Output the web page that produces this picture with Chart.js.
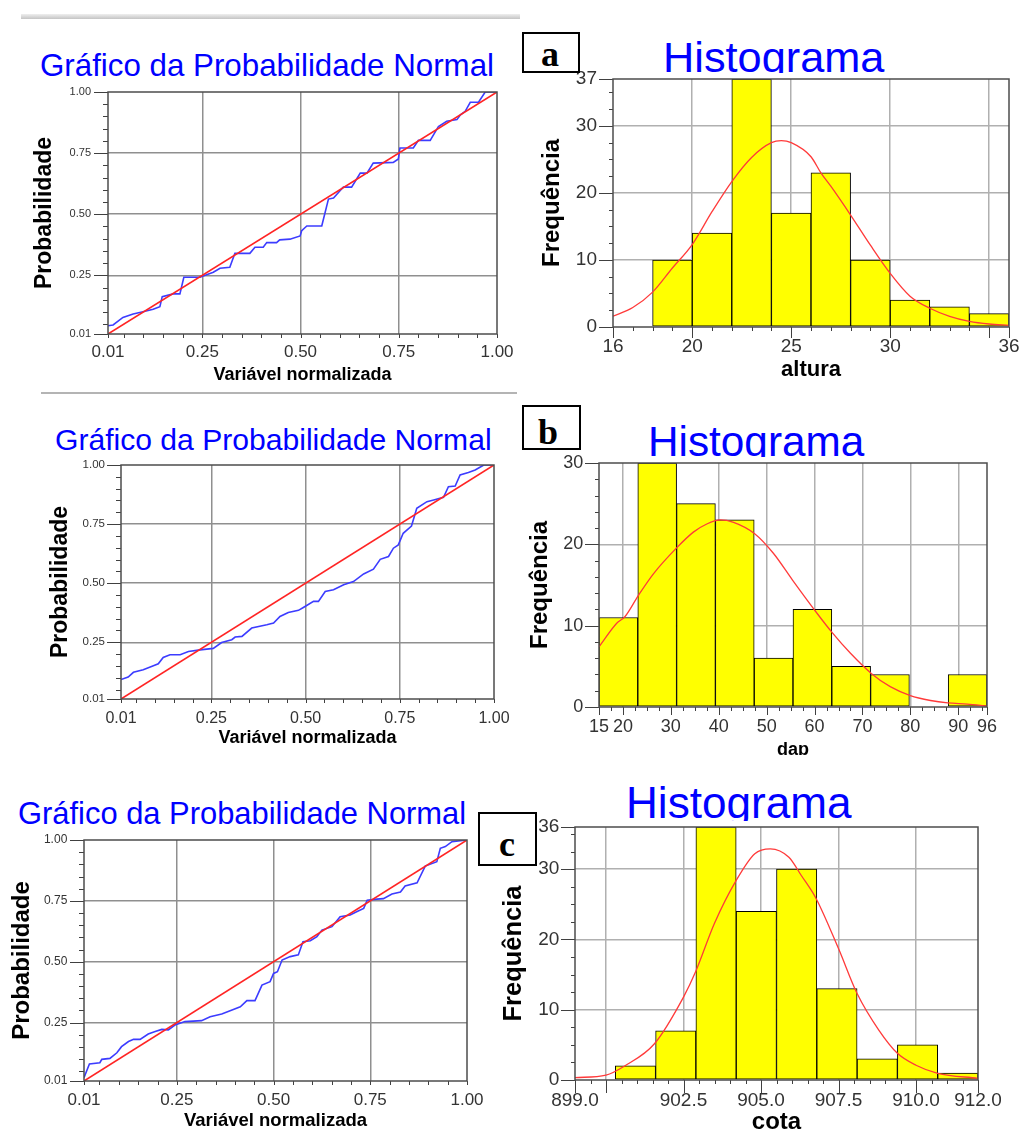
<!DOCTYPE html>
<html lang="pt-BR">
<head>
<meta charset="utf-8">
<title>Probabilidade normal e histogramas</title>
<script src="https://cdn.jsdelivr.net/npm/chart.js@4.4.1/dist/chart.umd.min.js"></script>
<style>
  html, body { margin: 0; padding: 0; background: #fff; }
  body { width: 1022px; height: 1131px; position: relative; overflow: hidden;
         font-family: 'Liberation Sans', Arial, sans-serif; }
  .painel { position: absolute; overflow: hidden; }
  .painel canvas { position: absolute; left: 0; top: 0; }
  .corte { position: absolute; overflow: hidden; }
  .titulo { position: absolute; left: 0; top: 0; color: #0000ff; white-space: nowrap; line-height: 1; }
  .letra { position: absolute; border: 2px solid #000; box-sizing: border-box; background: #fff; overflow: hidden; }
  .letra span { position: absolute; font-family: 'Liberation Serif', 'Times New Roman', serif;
                font-weight: bold; font-size: 36px; line-height: 1; }
  .linha { position: absolute; }
</style>
</head>
<body>

<div class="linha" style="left:21px;top:14px;width:499px;height:5px;background:linear-gradient(#efefef,#c4c4c4);"></div>
<div class="linha" style="left:41px;top:392px;width:476px;height:2px;background:#b4b4b4;"></div>

<div class="corte" style="left:40px;top:50px;width:470px;height:40px;"><div class="titulo" style="font-size:31.3px;">Gráfico da Probabilidade Normal</div></div>
<div class="corte" style="left:55px;top:425px;width:460px;height:40px;"><div class="titulo" style="font-size:30.1px;">Gráfico da Probabilidade Normal</div></div>
<div class="corte" style="left:18px;top:799px;width:460px;height:40px;"><div class="titulo" style="font-size:30.9px;">Gráfico da Probabilidade Normal</div></div>

<div class="corte" style="left:663px;top:36px;width:240px;height:37px;"><div class="titulo" style="font-size:43.3px;">Histograma</div></div>
<div class="corte" style="left:648px;top:421px;width:240px;height:36px;"><div class="titulo" style="font-size:42.3px;">Histograma</div></div>
<div class="corte" style="left:626px;top:781px;width:240px;height:40px;"><div class="titulo" style="font-size:44.1px;">Histograma</div></div>

<script>
// Gráfico da probabilidade normal: variável normalizada x probabilidade acumulada
const probMarcas = [0.01, 0.25, 0.50, 0.75, 1.00];
const probRotulos = ['0.01', '0.25', '0.50', '0.75', '1.00'];
const retaRefX = [0.01, 1.00];
const retaRefY = [0.01, 1.00];

// (a) altura
const alturaProbX = [0.01, 0.023, 0.048, 0.074, 0.099, 0.125, 0.142, 0.148, 0.176, 0.193,
  0.203, 0.244, 0.278, 0.295, 0.32, 0.333, 0.371, 0.384, 0.405, 0.414,
  0.439, 0.447, 0.473, 0.499, 0.503, 0.516, 0.554, 0.571, 0.584, 0.601,
  0.609, 0.63, 0.652, 0.669, 0.685, 0.736, 0.749, 0.753, 0.787, 0.8,
  0.83, 0.851, 0.872, 0.898, 0.907, 0.919, 0.932, 0.953, 0.97, 1.0];
const alturaProbY = [0.044, 0.047, 0.078, 0.092, 0.101, 0.111, 0.122, 0.163, 0.174, 0.174,
  0.242, 0.242, 0.263, 0.279, 0.283, 0.340, 0.340, 0.365, 0.365, 0.384,
  0.384, 0.395, 0.398, 0.411, 0.433, 0.452, 0.452, 0.562, 0.566, 0.597,
  0.611, 0.611, 0.668, 0.668, 0.709, 0.712, 0.726, 0.771, 0.771, 0.802,
  0.802, 0.859, 0.880, 0.887, 0.907, 0.921, 0.958, 0.958, 1.0, 1.0];

// (b) dap
const dapProbX = [0.01, 0.029, 0.043, 0.069, 0.096, 0.109, 0.122, 0.14, 0.167, 0.189,
  0.22, 0.255, 0.277, 0.304, 0.313, 0.331, 0.357, 0.397, 0.415, 0.432,
  0.454, 0.481, 0.494, 0.521, 0.534, 0.552, 0.574, 0.601, 0.627, 0.654,
  0.68, 0.698, 0.72, 0.733, 0.746, 0.759, 0.781, 0.795, 0.822, 0.84,
  0.866, 0.879, 0.897, 0.91, 0.932, 0.95, 0.973, 1.0];
const dapProbY = [0.092, 0.103, 0.123, 0.134, 0.151, 0.159, 0.186, 0.197, 0.197, 0.211,
  0.218, 0.224, 0.249, 0.261, 0.272, 0.275, 0.31, 0.324, 0.331, 0.359,
  0.376, 0.385, 0.397, 0.423, 0.423, 0.465, 0.472, 0.493, 0.507, 0.539,
  0.559, 0.601, 0.613, 0.648, 0.662, 0.711, 0.742, 0.817, 0.845, 0.852,
  0.863, 0.908, 0.911, 0.958, 0.968, 0.979, 1.0, 1.0];

// (c) cota
const cotaProbX = [0.01, 0.024, 0.051, 0.056, 0.077, 0.095, 0.107, 0.125, 0.138, 0.155,
  0.176, 0.194, 0.211, 0.228, 0.245, 0.271, 0.314, 0.336, 0.366, 0.396,
  0.414, 0.431, 0.452, 0.47, 0.491, 0.5, 0.51, 0.522, 0.543, 0.564,
  0.576, 0.595, 0.612, 0.625, 0.651, 0.672, 0.698, 0.716, 0.733, 0.742,
  0.767, 0.784, 0.806, 0.828, 0.84, 0.871, 0.892, 0.922, 0.931, 0.944,
  0.961, 1.0];
const cotaProbY = [0.024, 0.08, 0.085, 0.099, 0.103, 0.126, 0.151, 0.172, 0.181, 0.181,
  0.203, 0.213, 0.222, 0.22, 0.24, 0.254, 0.258, 0.274, 0.285, 0.304,
  0.315, 0.34, 0.34, 0.404, 0.418, 0.452, 0.459, 0.507, 0.521, 0.528,
  0.582, 0.586, 0.603, 0.63, 0.644, 0.685, 0.692, 0.706, 0.719, 0.753,
  0.757, 0.759, 0.778, 0.786, 0.811, 0.824, 0.893, 0.911, 0.966, 0.973,
  0.993, 1.0];

// Histogramas: limites das classes, frequências e curva normal ajustada
const alturaClasses = [18, 20, 22, 24, 26, 28, 30, 32, 34, 36];
const alturaFreq = [10, 14, 37, 17, 23, 10, 4, 3, 2];
const alturaCurvaX = [16, 17, 18, 19, 20, 21, 22, 23, 24, 24.5, 25, 26, 26.5, 27, 28, 29, 30, 31, 32, 33, 34, 35, 36];
const alturaCurvaY = [1.6, 2.9, 5.2, 8.8, 12.3, 17.2, 21.7, 25.3, 27.5, 27.8, 27.5, 25.4, 23.0, 21.0, 16.7, 12.2, 8.0, 4.6, 2.8, 1.6, 0.85, 0.45, 0.25];
const alturaMarcasX = [16, 20, 25, 30, 35, 36];
const alturaRotulosX = ['16', '20', '25', '30', '', '36'];
const alturaMarcasY = [0, 10, 20, 30, 37];
const alturaRotulosY = ['0', '10', '20', '30', '37'];

const dapClasses = [15, 23.1, 31.2, 39.3, 47.4, 55.5, 63.6, 71.7, 79.8, 87.9, 96];
const dapFreq = [11, 30, 25, 23, 6, 12, 5, 4, 0, 4];
const dapCurvaX = [15, 18.7, 20.4, 23.2, 26.4, 31.1, 34.7, 37.5, 40.3, 43.1, 47.5, 51.4, 55.4, 59.9, 63.6, 67.5, 71.9, 75.8, 80.0, 84.2, 87.8, 91.9, 96];
const dapCurvaY = [7.4, 10.3, 11.1, 13.7, 16.4, 19.5, 21.5, 22.5, 23.0, 22.7, 21.3, 18.9, 15.6, 12.0, 9.2, 6.6, 4.1, 2.5, 1.4, 0.8, 0.5, 0.35, 0.12];
const dapMarcasX = [15, 20, 30, 40, 50, 60, 70, 80, 90, 96];
const dapRotulosX = ['15', '20', '30', '40', '50', '60', '70', '80', '90', '96'];
const dapMarcasY = [0, 10, 20, 30];
const dapRotulosY = ['0', '10', '20', '30'];

const cotaClasses = [900.3, 901.6, 902.9, 904.2, 905.5, 906.8, 908.1, 909.4, 910.7, 912.0];
const cotaFreq = [2, 7, 36, 24, 30, 13, 3, 5, 1];
const cotaCurvaX = [899.0, 900.0, 900.6, 901.57, 902.5, 902.89, 903.5, 904.2, 904.8, 905.3, 905.9, 906.3, 906.78, 907.5, 908.1, 908.8, 909.4, 910.0, 910.7, 912.0];
const cotaCurvaY = [0.33, 0.7, 2.0, 5.2, 11.8, 15.4, 22.3, 28.4, 32.2, 32.9, 31.7, 29.1, 25.8, 18.7, 12.3, 7.1, 3.8, 2.1, 0.95, 0.24];
const cotaMarcasX = [899, 900, 902.5, 905, 907.5, 910, 912];
const cotaRotulosX = ['899.0', '', '902.5', '905.0', '907.5', '910.0', '912.0'];
const cotaMarcasY = [0, 10, 20, 30, 36];
const cotaRotulosY = ['0', '10', '20', '30', '36'];

Chart.defaults.font.family = "'Liberation Sans', Arial, sans-serif";
Chart.defaults.animation = false;

// posições das marcas secundárias dos eixos
function passos(ini, fim, passo, fora) {
  const lista = [];
  for (let i = 0; ini + i * passo <= fim + 1e-9; i++) {
    const v = Math.round((ini + i * passo) * 1000) / 1000;
    if (!fora.some(f => Math.abs(f - v) < 1e-6)) lista.push(v);
  }
  return lista;
}

// moldura da área de plotagem e tracinhos dos eixos
const molduraEMarcas = {
  id: 'moldura',
  afterDraw(chart, args, o) {
    const { ctx, chartArea: a, scales } = chart;
    const sx = scales.x, sy = scales.y;
    const traco = (x1, y1, x2, y2) => { ctx.beginPath(); ctx.moveTo(x1, y1); ctx.lineTo(x2, y2); ctx.stroke(); };
    const px = v => Math.round(sx.getPixelForValue(v)) + 0.5;
    const py = v => Math.round(sy.getPixelForValue(v)) + 0.5;
    ctx.save();
    ctx.strokeStyle = '#404040';
    ctx.lineWidth = 1;
    sx.ticks.forEach(t => traco(px(t.value), a.bottom, px(t.value), a.bottom + o.xMaior));
    o.xMenor.forEach(v => traco(px(v), a.bottom, px(v), a.bottom + o.xMenorComp));
    sy.ticks.forEach(t => traco(a.left, py(t.value), a.left - o.yMaior, py(t.value)));
    o.yMenor.forEach(v => traco(a.left, py(v), a.left - o.yMenorComp, py(v)));
    ctx.strokeStyle = '#4c4c4c';
    ctx.lineWidth = 1.5;
    ctx.strokeRect(a.left, a.top, a.right - a.left, a.bottom - a.top);
    ctx.restore();
  }
};

function criarPainel(g) {
  const div = document.createElement('div');
  div.className = 'painel';
  const esq = g.L - g.eixoY, topo = g.T - g.folgaTopo;
  const larg = g.R - g.L + g.eixoY + g.folgaDir;
  const alt = g.B - g.T + g.folgaTopo + g.eixoX;
  div.style.left = esq + 'px';
  div.style.top = topo + 'px';
  div.style.width = larg + 'px';
  div.style.height = (g.corte ? g.corte - topo : alt) + 'px';
  const cv = document.createElement('canvas');
  cv.width = larg;
  cv.height = alt;
  div.appendChild(cv);
  document.body.appendChild(div);
  return cv;
}

function eixo(g, lado, marcas, rotulos, titulo, f) {
  const horizontal = lado === 'bottom';
  const ult = marcas.length - 1;
  return {
    type: 'linear', position: lado, min: marcas[0], max: marcas[ult], offset: false,
    afterBuildTicks: s => { s.ticks = marcas.map(v => ({ value: v })); },
    afterFit: s => {
      if (horizontal) { s.height = g.eixoX; s.paddingLeft = 0; s.paddingRight = 0; }
      else { s.width = g.eixoY; s.paddingTop = 0; s.paddingBottom = 0; }
    },
    grid: {
      offset: false, drawTicks: false, lineWidth: f.largGrade,
      color: c => (c.index === 0 || c.index === ult) ? 'rgba(0,0,0,0)' : f.corGrade
    },
    border: { display: false },
    ticks: {
      autoSkip: false, maxRotation: 0, minRotation: 0, color: '#333',
      padding: horizontal ? f.padTicksX : f.padTicksY,
      font: { size: horizontal ? f.tamTicksX : f.tamTicksY },
      callback: (v, i) => rotulos[i]
    },
    title: {
      display: true, text: titulo, color: '#000',
      font: { size: horizontal ? f.tamTituloX : f.tamTituloY, weight: 'bold' },
      padding: horizontal ? { top: 0, bottom: f.padTituloX } : { top: f.padTituloY, bottom: 0 }
    }
  };
}

function graficoProb(g, serieX, serieY, f) {
  const cv = criarPainel(g);
  new Chart(cv, {
    type: 'line',
    data: {
      datasets: [{
        data: retaRefX.map((x, i) => ({ x, y: retaRefY[i] })),
        borderColor: '#ff2424', borderWidth: 1.6, pointRadius: 0, order: 0
      }, {
        data: serieX.map((x, i) => ({ x, y: serieY[i] })),
        borderColor: '#3c3cff', borderWidth: 1.6, pointRadius: 0, order: 1
      }]
    },
    options: {
      responsive: false,
      layout: { padding: { top: g.folgaTopo, right: g.folgaDir, left: 0, bottom: 0 } },
      plugins: {
        legend: { display: false }, tooltip: { enabled: false },
        moldura: {
          xMaior: 4, xMenorComp: 4, yMaior: 14, yMenorComp: 5,
          xMenor: passos(0.05, 0.95, 0.05, [0.25, 0.5, 0.75]),
          yMenor: passos(0.05, 0.95, 0.05, [0.25, 0.5, 0.75])
        }
      },
      scales: {
        x: eixo(g, 'bottom', probMarcas, probRotulos, 'Variável normalizada', f),
        y: eixo(g, 'left', probMarcas, probRotulos, 'Probabilidade', f)
      }
    },
    plugins: [molduraEMarcas]
  });
}

function histograma(g, h, f) {
  const cv = criarPainel(g);
  const centros = h.freq.map((v, i) => ({ x: (h.classes[i] + h.classes[i + 1]) / 2, y: v }));
  const xMin = h.marcasX[0], xMax = h.marcasX[h.marcasX.length - 1];
  new Chart(cv, {
    type: 'bar',
    data: {
      datasets: [{
        type: 'line',
        data: h.curvaX.map((x, i) => ({ x, y: h.curvaY[i] })),
        xAxisID: 'x', borderColor: '#ff3a3a', borderWidth: 1.3, pointRadius: 0,
        cubicInterpolationMode: 'monotone', order: 0
      }, {
        data: centros, xAxisID: 'xb', grouped: false,
        backgroundColor: '#ffff00', borderColor: '#000', borderWidth: 1, borderSkipped: false,
        barPercentage: 1, categoryPercentage: 1, order: 1
      }]
    },
    options: {
      responsive: false,
      layout: { padding: { top: g.folgaTopo, right: g.folgaDir, left: 0, bottom: 0 } },
      plugins: {
        legend: { display: false }, tooltip: { enabled: false },
        moldura: { xMaior: h.xMaior, xMenorComp: 4, yMaior: 14, yMenorComp: 4, xMenor: h.xMenor, yMenor: h.yMenor }
      },
      scales: {
        x: eixo(g, 'bottom', h.marcasX, h.rotulosX, h.tituloX, f),
        xb: {
          type: 'linear', display: false, min: xMin, max: xMax, offset: false,
          grid: { offset: false },
          afterBuildTicks: s => { s.ticks = [{ value: xMin }, { value: xMax }]; }
        },
        y: eixo(g, 'left', h.marcasY, h.rotulosY, 'Frequência', f)
      }
    },
    plugins: [molduraEMarcas]
  });
}

const estiloProb = { corGrade: '#8f8f8f', largGrade: 1.5 };
const estiloHist = { corGrade: '#b0b0b0', largGrade: 1.5 };

// coluna da esquerda
graficoProb({ L: 108, T: 92, R: 497, B: 334, eixoY: 108, eixoX: 60, folgaTopo: 10, folgaDir: 20 },
  alturaProbX, alturaProbY,
  Object.assign({ tamTicksX: 17, tamTicksY: 11, padTicksX: 7.8, padTicksY: 17,
    tamTituloX: 18, tamTituloY: 23, padTituloX: 8.2, padTituloY: 30.7 }, estiloProb));

graficoProb({ L: 121, T: 465, R: 494, B: 699, eixoY: 121, eixoX: 60, folgaTopo: 10, folgaDir: 20 },
  dapProbX, dapProbY,
  Object.assign({ tamTicksX: 16, tamTicksY: 11.5, padTicksX: 10.2, padTicksY: 16,
    tamTituloX: 18, tamTituloY: 23, padTituloX: 9.9, padTituloY: 47.2 }, estiloProb));

graficoProb({ L: 84, T: 840, R: 467, B: 1081, eixoY: 84, eixoX: 55, folgaTopo: 10, folgaDir: 20 },
  cotaProbX, cotaProbY,
  Object.assign({ tamTicksX: 17, tamTicksY: 12, padTicksX: 9.6, padTicksY: 16.7,
    tamTituloX: 18.5, tamTituloY: 24, padTituloX: 4.4, padTituloY: 7.6 }, estiloProb));

// coluna da direita
histograma({ L: 613, T: 79, R: 1009, B: 327, eixoY: 80, eixoX: 60, folgaTopo: 14, folgaDir: 13 },
  { classes: alturaClasses, freq: alturaFreq, curvaX: alturaCurvaX, curvaY: alturaCurvaY,
    marcasX: alturaMarcasX, rotulosX: alturaRotulosX, marcasY: alturaMarcasY, rotulosY: alturaRotulosY,
    tituloX: 'altura', xMaior: 11,
    xMenor: passos(17, 35, 1, [20, 25, 30, 35]), yMenor: passos(2.5, 35, 2.5, [10, 20, 30]) },
  Object.assign({ tamTicksX: 19, tamTicksY: 19, padTicksX: 8.4, padTicksY: 16,
    tamTituloX: 22, tamTituloY: 24, padTituloX: 3.8, padTituloY: 4.6 }, estiloHist));

histograma({ L: 599, T: 463, R: 987, B: 707, eixoY: 80, eixoX: 60, folgaTopo: 14, folgaDir: 20, corte: 755 },
  { classes: dapClasses, freq: dapFreq, curvaX: dapCurvaX, curvaY: dapCurvaY,
    marcasX: dapMarcasX, rotulosX: dapRotulosX, marcasY: dapMarcasY, rotulosY: dapRotulosY,
    tituloX: 'dap', xMaior: 8,
    xMenor: passos(17.5, 95, 2.5, [20, 30, 40, 50, 60, 70, 80, 90]), yMenor: passos(2, 28, 2, [10, 20]) },
  Object.assign({ tamTicksX: 18, tamTicksY: 18, padTicksX: 9.2, padTicksY: 15.7,
    tamTituloX: 18, tamTituloY: 24, padTituloX: 6.3, padTituloY: 7.1 }, estiloHist));

histograma({ L: 575, T: 827, R: 978, B: 1080, eixoY: 80, eixoX: 60, folgaTopo: 14, folgaDir: 23 },
  { classes: cotaClasses, freq: cotaFreq, curvaX: cotaCurvaX, curvaY: cotaCurvaY,
    marcasX: cotaMarcasX, rotulosX: cotaRotulosX, marcasY: cotaMarcasY, rotulosY: cotaRotulosY,
    tituloX: 'cota', xMaior: 13,
    xMenor: passos(899.5, 911.5, 0.5, [900, 902.5, 905, 907.5, 910]), yMenor: passos(2.5, 35, 2.5, [10, 20, 30]) },
  Object.assign({ tamTicksX: 19, tamTicksY: 19, padTicksX: 8.9, padTicksY: 15.7,
    tamTituloX: 24, tamTituloY: 25.5, padTituloX: 3.6, padTituloY: 3.7 }, estiloHist));
</script>

<div class="letra" style="left:522px;top:32px;width:58px;height:41px;"><span style="left:17px;top:2px;">a</span></div>
<div class="letra" style="left:522px;top:405px;width:59px;height:45px;"><span style="left:14px;top:7px;">b</span></div>
<div class="letra" style="left:478px;top:812px;width:59px;height:54px;"><span style="left:19px;top:12px;">c</span></div>

</body>
</html>
